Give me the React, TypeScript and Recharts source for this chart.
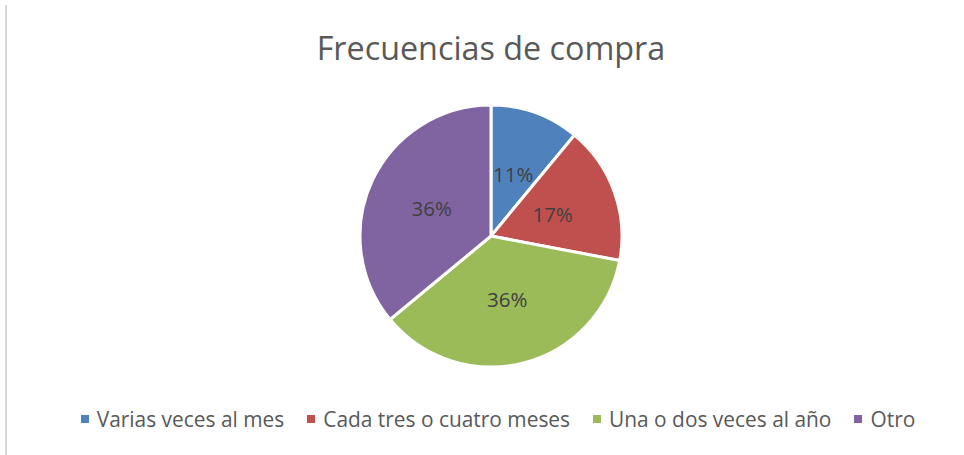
import { PieChart, Pie, Cell, Legend } from "recharts";

const categories = [
  "Varias veces al mes",
  "Cada tres o cuatro meses",
  "Una o dos veces al año",
  "Otro",
];
const shares = [11, 17, 36, 36];
const colors = ["#4F81BD", "#C0504D", "#9BBB59", "#8064A2"];

const data = categories.map((name, i) => ({ name, value: shares[i] }));
const total = shares.reduce((a, b) => a + b, 0);

const RAD = Math.PI / 180;
const FONT = "'Open Sans', sans-serif";

const renderLabel = (props: any) => {
  const { cx, cy, midAngle, outerRadius, value } = props;
  const r = outerRadius * 0.5;
  const x = cx + r * Math.cos(-midAngle * RAD);
  const y = cy + r * Math.sin(-midAngle * RAD);
  return (
    <text
      x={x}
      y={y}
      fill="#404040"
      fontSize={20.5}
      fontFamily={FONT}
      textAnchor="middle"
      dominantBaseline="central"
    >
      {`${Math.round((value / total) * 100)}%`}
    </text>
  );
};

const renderLegend = () => (
  <div
    style={{
      display: "flex",
      justifyContent: "center",
      gap: 23,
      fontFamily: FONT,
      fontSize: 20.9,
      color: "#595959",
      paddingLeft: 32,
    }}
  >
    {categories.map((c, i) => (
      <div key={c} style={{ display: "flex", alignItems: "center" }}>
        <span
          style={{
            width: 8,
            height: 8,
            background: colors[i],
            marginRight: 8,
            display: "inline-block",
          }}
        />
        <span>{c}</span>
      </div>
    ))}
  </div>
);

export default function App() {
  return (
    <div
      style={{
        position: "absolute",
        left: 0,
        top: 0,
        width: 964,
        height: 455,
        background: "#fff",
      }}
    >
      <div
        style={{
          position: "absolute",
          left: 5,
          top: 5,
          width: 2,
          height: 450,
          background: "#D9D9D9",
        }}
      />
      <div
        style={{
          position: "absolute",
          top: 25,
          left: 0,
          width: 982,
          textAlign: "center",
          fontFamily: FONT,
          fontSize: 32.3,
          color: "#595959",
        }}
      >
        Frecuencias de compra
      </div>
      <PieChart width={964} height={455}>
        <Pie
          data={data}
          dataKey="value"
          nameKey="name"
          cx={486}
          cy={231}
          outerRadius={131}
          startAngle={90}
          endAngle={-270}
          stroke="#fff"
          strokeWidth={3}
          label={renderLabel}
          labelLine={false}
          isAnimationActive={false}
        >
          {data.map((d, i) => (
            <Cell key={d.name} fill={colors[i]} />
          ))}
        </Pie>
        <Legend
          content={renderLegend}
          wrapperStyle={{ top: 405, left: 0, width: 964 }}
        />
      </PieChart>
    </div>
  );
}
